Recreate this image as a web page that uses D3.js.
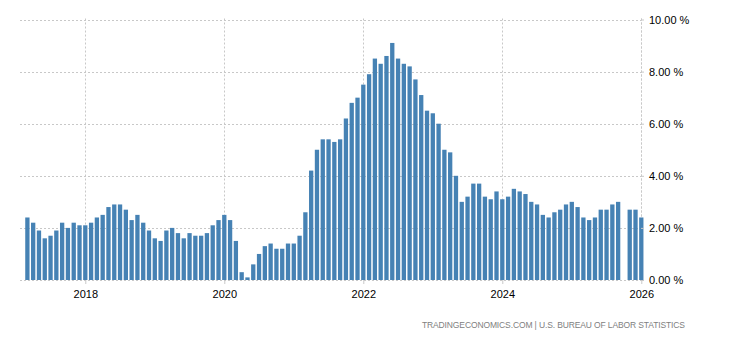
<!DOCTYPE html>
<html>
<head>
<meta charset="utf-8">
<script src="https://cdn.jsdelivr.net/npm/d3@7/dist/d3.min.js"></script>
<style>
  html, body { margin: 0; padding: 0; background: #fff; }
  svg { display: block; }
  .lbl { font-family: "Liberation Sans", Arial, sans-serif; font-size: 11px; fill: #000; }
  .src { font-family: "Liberation Sans", Arial, sans-serif; font-size: 8.5px; fill: #808080; }
</style>
</head>
<body>
<svg id="chart" width="730" height="340"></svg>
<script>
// US consumer price inflation, year over year (%), monthly from March 2017
const startMonth = "2017-03";
const values = [
  2.4, 2.2, 1.9, 1.6, 1.7, 1.9, 2.2, 2.0, 2.2, 2.1,            // 2017 Mar-Dec
  2.1, 2.2, 2.4, 2.5, 2.8, 2.9, 2.9, 2.7, 2.3, 2.5, 2.2, 1.9,  // 2018
  1.6, 1.5, 1.9, 2.0, 1.8, 1.6, 1.8, 1.7, 1.7, 1.8, 2.1, 2.3,  // 2019
  2.5, 2.3, 1.5, 0.3, 0.1, 0.6, 1.0, 1.3, 1.4, 1.2, 1.2, 1.4,  // 2020
  1.4, 1.7, 2.6, 4.2, 5.0, 5.4, 5.4, 5.3, 5.4, 6.2, 6.8, 7.0,  // 2021
  7.5, 7.9, 8.5, 8.3, 8.6, 9.1, 8.5, 8.3, 8.2, 7.7, 7.1, 6.5,  // 2022
  6.4, 6.0, 5.0, 4.9, 4.0, 3.0, 3.2, 3.7, 3.7, 3.2, 3.1, 3.4,  // 2023
  3.1, 3.2, 3.5, 3.4, 3.3, 3.0, 2.9, 2.5, 2.4, 2.6, 2.7, 2.9,  // 2024
  3.0, 2.8, 2.4, 2.3, 2.4, 2.7, 2.7, 2.9, 3.0, null, 2.7, 2.7, // 2025 (no October release)
  2.4                                                          // 2026 Jan
];
const yearTicks = [2018, 2020, 2022, 2024, 2026];
const yTicks = [0, 2, 4, 6, 8, 10];
const sourceText = "TRADINGECONOMICS.COM  |  U.S. BUREAU OF LABOR STATISTICS";

// month offset relative to January 2018
const [sy, sm] = startMonth.split("-").map(Number);
const firstOffset = (sy - 2018) * 12 + (sm - 1);
const data = values.map((v, i) => ({ m: firstOffset + i, v }));

const svg = d3.select("#chart");
const plotLeft = 20, plotRight = 641, plotTop = 19.5, plotBottom = 280;

const x = d3.scaleLinear().domain([0, 96]).range([85.3, 641.3]);
const y = d3.scaleLinear().domain([0, 10]).range([plotBottom, plotTop]);
const barW = 4.3;

// horizontal grid
svg.append("g").selectAll("line").data(yTicks).join("line")
  .attr("x1", plotLeft).attr("x2", plotRight)
  .attr("y1", d => Math.round(y(d)) + 0.5).attr("y2", d => Math.round(y(d)) + 0.5)
  .attr("stroke", "#c8c8c8").attr("stroke-dasharray", "2,2");

// vertical grid at year boundaries
svg.append("g").selectAll("line").data(yearTicks).join("line")
  .attr("x1", d => Math.round(x((d - 2018) * 12)) + 0.5)
  .attr("x2", d => Math.round(x((d - 2018) * 12)) + 0.5)
  .attr("y1", plotTop - 1).attr("y2", plotBottom)
  .attr("stroke", "#c8c8c8").attr("stroke-dasharray", "2,2");

// right axis line
svg.append("line")
  .attr("x1", plotRight + 0.5).attr("x2", plotRight + 0.5)
  .attr("y1", plotTop - 1).attr("y2", plotBottom)
  .attr("stroke", "#c8c8c8").attr("stroke-dasharray", "2,2");

// bars
svg.append("g").selectAll("rect").data(data.filter(d => d.v != null)).join("rect")
  .attr("x", d => x(d.m) - barW / 2)
  .attr("width", barW)
  .attr("y", d => y(d.v))
  .attr("height", d => y(0) - y(d.v))
  .attr("fill", "#4682b4");

// x axis ticks and labels
const xAxis = d3.axisBottom(x)
  .tickValues(yearTicks.map(d => (d - 2018) * 12))
  .tickFormat((d) => String(2018 + d / 12))
  .tickSize(4).tickPadding(6);
const gx = svg.append("g").attr("transform", `translate(0,${plotBottom})`).call(xAxis);
gx.select(".domain").remove();
gx.selectAll(".tick line").attr("stroke", "#c8c8c8");
gx.selectAll(".tick text").attr("class", "lbl").attr("fill", null)
  .attr("font-family", null).attr("font-size", null);

// y axis labels on the right
const yAxis = d3.axisRight(y)
  .tickValues(yTicks)
  .tickFormat(d => d3.format(".2f")(d) + " %")
  .tickSize(3).tickPadding(5);
const gy = svg.append("g").attr("transform", `translate(${plotRight},0)`).call(yAxis);
gy.select(".domain").remove();
gy.selectAll(".tick line").attr("stroke", "#c8c8c8");
gy.selectAll(".tick text").attr("class", "lbl").attr("fill", null)
  .attr("font-family", null).attr("font-size", null);

// source line
svg.append("text").attr("class", "src")
  .attr("x", 685).attr("y", 328).attr("text-anchor", "end")
  .attr("textLength", 263).attr("lengthAdjust", "spacing")
  .text(sourceText);
</script>
</body>
</html>
